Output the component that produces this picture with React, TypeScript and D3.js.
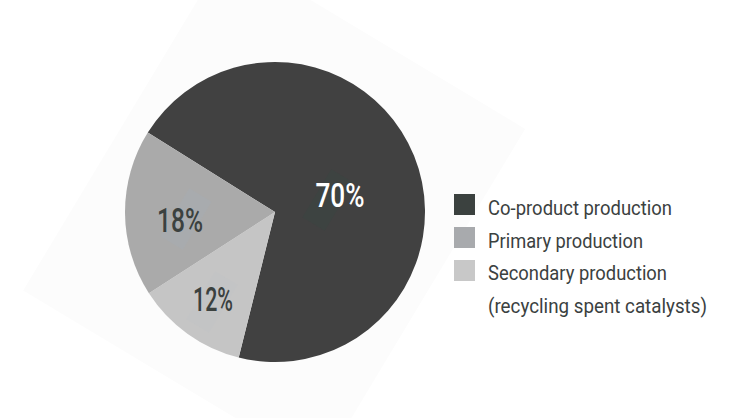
import React from "react";
import * as d3 from "d3";

const categories = ["Co-product production", "Secondary production", "Primary production"];
const values = [70, 12, 18];
const sliceLabels = ["70%", "12%", "18%"];
const legendLines = [
  ["Co-product production"],
  ["Primary production"],
  ["Secondary production", "(recycling spent catalysts)"],
];
const legendCategories = ["Co-product production", "Primary production", "Secondary production"];

const W = 736;
const H = 418;
const cx = 275;
const cy = 212;
const R = 150;
const sliceColors: Record<string, string> = {
  "Co-product production": "#414141",
  "Primary production": "#aaaaaa",
  "Secondary production": "#c5c5c5",
};
const markColors: Record<string, string> = {
  "Co-product production": "#3d4341",
  "Primary production": "#a8abae",
  "Secondary production": "#c3c4c5",
};
const legendColors: Record<string, string> = {
  "Co-product production": "#3b413f",
  "Primary production": "#a8aaad",
  "Secondary production": "#c8c8c8",
};
const labelPos: Record<string, [number, number, number, string]> = {
  "Co-product production": [340, 207, 49, "#ffffff"],
  "Secondary production": [213, 311, 40, "#3b413f"],
  "Primary production": [180, 232, 46, "#3b413f"],
};
const markPos: Record<string, [number, number]> = {
  "Co-product production": [328, 200],
  "Secondary production": [212, 302],
  "Primary production": [186, 219],
};
const legendTextWidths: Record<string, number> = {
  "Co-product production": 184,
  "Primary production": 155,
  "Secondary production": 179,
  "(recycling spent catalysts)": 219,
};

const FONT = "Roboto, 'DejaVu Sans Condensed', sans-serif";

export default function App() {
  const pie = d3
    .pie<number>()
    .sort(null)
    .startAngle((-58 * Math.PI) / 180)
    .endAngle((302 * Math.PI) / 180);
  const arcs = pie(values);
  const arc = d3.arc<d3.PieArcDatum<number>>().innerRadius(0).outerRadius(R);

  let lineIdx = 0;
  return (
    <svg
      width={W}
      height={H}
      style={{ position: "absolute", left: 0, top: 0, background: "#ffffff" }}
    >
      <g transform={`translate(274,209) rotate(31)`}>
        <rect x={-173} y={-198} width={347} height={397} fill="#fcfcfc" />
      </g>
      <g transform={`translate(${cx},${cy})`}>
        {arcs.map((a, i) => (
          <path key={i} d={arc(a) || ""} fill={sliceColors[categories[i]]} />
        ))}
      </g>
      {arcs.map((a, i) => {
        const [mx, my] = markPos[categories[i]];
        return (
          <g key={"m" + i} transform={`translate(${mx},${my}) rotate(31)`}>
            <rect x={-13} y={-28} width={26} height={56} fill={markColors[categories[i]]} />
          </g>
        );
      })}
      {arcs.map((a, i) => {
        const [x, y, w, c] = labelPos[categories[i]];
        return (
          <text
            key={"l" + i}
            x={x}
            y={y}
            textAnchor="middle"
            fill={c}
            fontFamily={FONT}
            fontSize={34}
            fontWeight={500}
            textLength={w}
            lengthAdjust="spacingAndGlyphs"
          >
            {sliceLabels[i]}
          </text>
        );
      })}
      <g>
        {legendCategories.map((cat, i) => (
          <rect
            key={"s" + i}
            x={454}
            y={194 + i * 33}
            width={21}
            height={21}
            fill={legendColors[cat]}
          />
        ))}
        {legendLines.map((lines, i) =>
          lines.map((ln, j) => {
            const y = 215 + (lineIdx++) * 32.5;
            return (
              <text
                key={`t${i}-${j}`}
                x={488}
                y={y}
                fill="#3b413f"
                fontFamily={FONT}
                fontSize={20.5}
                textLength={legendTextWidths[ln]}
                lengthAdjust="spacingAndGlyphs"
              >
                {ln}
              </text>
            );
          })
        )}
      </g>
    </svg>
  );
}
